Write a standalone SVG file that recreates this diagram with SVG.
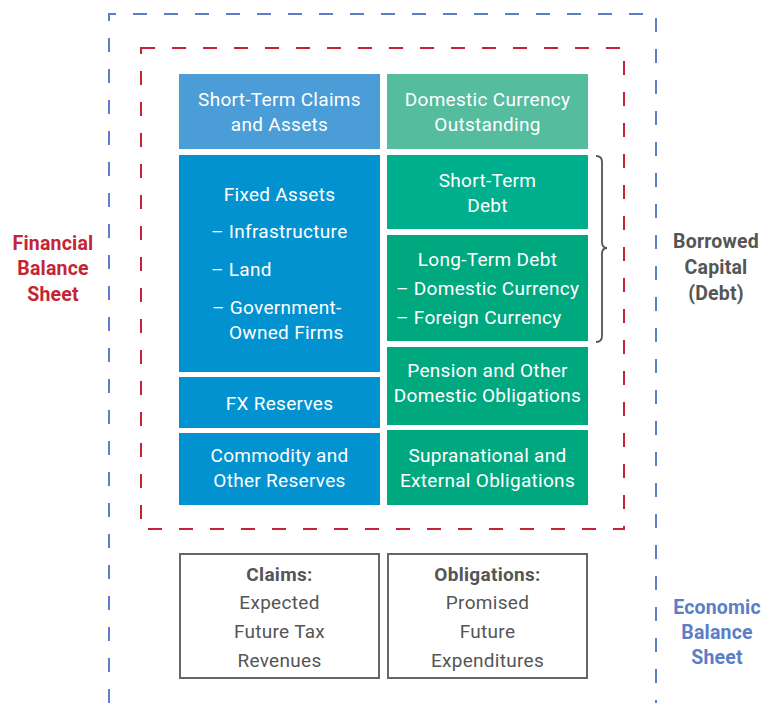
<svg xmlns="http://www.w3.org/2000/svg" width="763" height="703" viewBox="0 0 763 703">
<style>
.t{font-family:Roboto,"Liberation Sans",sans-serif;font-size:19px;letter-spacing:0.3px;fill:#fff;text-anchor:middle;dominant-baseline:central}
.s{text-anchor:start}
.g{fill:#555}
.b{font-weight:bold}
.lbl{font-family:Roboto,"Liberation Sans",sans-serif;font-size:19.5px;font-weight:bold;letter-spacing:0.2px;text-anchor:middle;dominant-baseline:central}
</style>
<rect width="763" height="703" fill="#fff"/>
<g id="economic-frame"><path d="M109 703 V14 H656 V703" fill="none" stroke="#5B7EC6" stroke-width="2" stroke-dasharray="14 17"/></g>
<g id="financial-frame"><rect x="141" y="48" width="483" height="481" fill="none" stroke="#C42435" stroke-width="2" stroke-dasharray="14 17"/></g>
<g id="n1"><rect x="179" y="74" width="201" height="75" fill="#4A9DD6"/><text class="t" x="279.5" y="99">Short-Term Claims</text><text class="t" x="279.5" y="124">and Assets</text></g>
<g id="n2"><rect x="179" y="155" width="201" height="217" fill="#0292D0"/><text class="t" x="279.5" y="194">Fixed Assets</text><text class="t s" x="211" y="231">– Infrastructure</text><text class="t s" x="211" y="269">– Land</text><text class="t s" x="212" y="307">– Government-</text><text class="t s" x="229" y="332">Owned Firms</text></g>
<g id="n3"><rect x="179" y="377" width="201" height="51" fill="#0292D0"/><text class="t" x="279.5" y="403">FX Reserves</text></g>
<g id="n4"><rect x="179" y="433" width="201" height="72" fill="#0292D0"/><text class="t" x="279.5" y="455">Commodity and</text><text class="t" x="279.5" y="480">Other Reserves</text></g>
<g id="n5"><rect x="387" y="74" width="201" height="75" fill="#55BC9E"/><text class="t" x="487.5" y="99">Domestic Currency</text><text class="t" x="487.5" y="124">Outstanding</text></g>
<g id="n6"><rect x="387" y="155" width="201" height="74" fill="#00AF8E"/><text class="t" x="487.5" y="180">Short-Term</text><text class="t" x="487.5" y="205">Debt</text></g>
<g id="n7"><rect x="387" y="235" width="201" height="106" fill="#00A880"/><text class="t" x="487.5" y="259">Long-Term Debt</text><text class="t s" x="396" y="288">– Domestic Currency</text><text class="t s" x="396" y="317">– Foreign Currency</text></g>
<g id="n8"><rect x="387" y="347" width="201" height="78" fill="#00A880"/><text class="t" x="487.5" y="370">Pension and Other</text><text class="t" x="487.5" y="395">Domestic Obligations</text></g>
<g id="n9"><rect x="387" y="430" width="201" height="75" fill="#00A880"/><text class="t" x="487.5" y="455">Supranational and</text><text class="t" x="487.5" y="480">External Obligations</text></g>
<g id="n10"><rect x="180" y="554" width="199" height="124" fill="none" stroke="#666" stroke-width="2"/><text class="t g b" x="279.5" y="574">Claims:</text><text class="t g" x="279.5" y="602">Expected</text><text class="t g" x="279.5" y="631">Future Tax</text><text class="t g" x="279.5" y="660">Revenues</text></g>
<g id="n11"><rect x="388" y="554" width="199" height="124" fill="none" stroke="#666" stroke-width="2"/><text class="t g b" x="487.5" y="574">Obligations:</text><text class="t g" x="487.5" y="602">Promised</text><text class="t g" x="487.5" y="631">Future</text><text class="t g" x="487.5" y="660">Expenditures</text></g>
<g id="connectors"><path d="M596 156 Q602 156 602 162 V242 Q602 248 607 248 Q602 248 602 254 V336 Q602 342 596 342" fill="none" stroke="#555" stroke-width="1.8"/></g>
<g id="label-financial"><text class="lbl" fill="#C42435" x="53" y="243">Financial</text><text class="lbl" fill="#C42435" x="53" y="268">Balance</text><text class="lbl" fill="#C42435" x="53" y="294">Sheet</text></g>
<g id="label-borrowed"><text class="lbl" fill="#555" x="716" y="241">Borrowed</text><text class="lbl" fill="#555" x="716" y="267">Capital</text><text class="lbl" fill="#555" x="716" y="293">(Debt)</text></g>
<g id="label-economic"><text class="lbl" fill="#5B7EC6" x="717" y="607">Economic</text><text class="lbl" fill="#5B7EC6" x="717" y="632">Balance</text><text class="lbl" fill="#5B7EC6" x="717" y="657">Sheet</text></g>
</svg>
